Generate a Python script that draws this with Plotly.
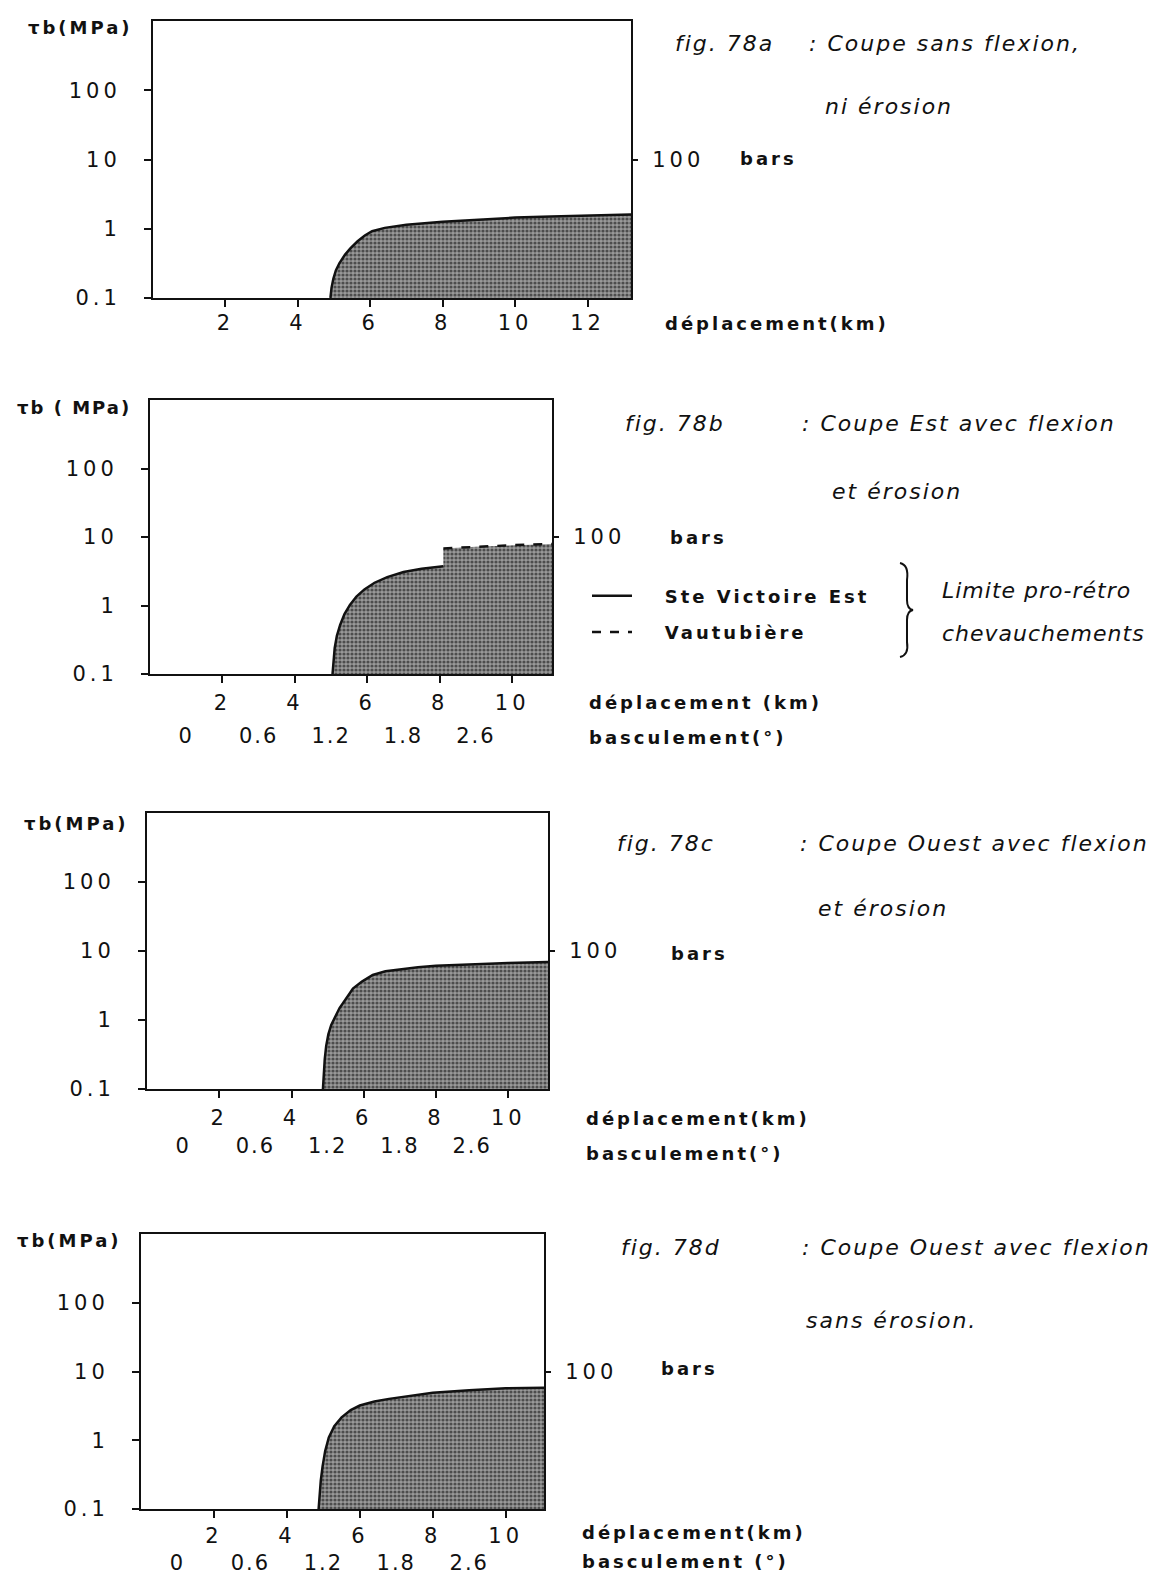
import plotly.graph_objects as go

W, H = 1163, 1577
OFF = 8                      # marge du <body> de la page
FW, FH = W - 2 * OFF, H - OFF

# valeurs : deplacement (km) -> Tb (MPa)
a_x = [4.9, 4.93, 4.98, 5.05, 5.15, 5.3, 5.45, 5.65, 5.85, 6.05, 6.4, 7.0, 8.0, 9.0, 10.0, 11.0, 12.0, 13.2]
a_y = [0.1, 0.14, 0.19, 0.25, 0.32, 0.42, 0.52, 0.66, 0.8, 0.92, 1.03, 1.14, 1.26, 1.36, 1.45, 1.5, 1.55, 1.6]

b_sv_x = [5.04, 5.06, 5.1, 5.16, 5.25, 5.37, 5.52, 5.7, 5.92, 6.2, 6.55, 7.0, 7.5, 8.1]
b_sv_y = [0.1, 0.15, 0.24, 0.36, 0.52, 0.75, 1.02, 1.35, 1.72, 2.15, 2.6, 3.08, 3.45, 3.75]
b_vt_x = [8.1, 9.0, 10.0, 11.1]
b_vt_y = [6.8, 7.2, 7.6, 7.9]

c_x = [4.87, 4.89, 4.92, 4.96, 5.02, 5.1, 5.2, 5.33, 5.5, 5.7, 5.95, 6.25, 6.6, 7.0, 7.5, 8.0, 9.0, 10.0, 11.1]
c_y = [0.1, 0.17, 0.27, 0.42, 0.62, 0.85, 1.1, 1.49, 2.0, 2.85, 3.6, 4.5, 5.1, 5.45, 5.8, 6.1, 6.45, 6.7, 6.9]

d_x = [4.87, 4.89, 4.93, 4.98, 5.05, 5.15, 5.3, 5.5, 5.75, 6.0, 6.4, 6.8, 7.4, 8.0, 9.0, 10.0, 11.05]
d_y = [0.1, 0.16, 0.26, 0.42, 0.7, 1.1, 1.6, 2.15, 2.75, 3.2, 3.65, 4.0, 4.45, 4.9, 5.35, 5.7, 5.8]

y_ticks = [0.1, 1, 10, 100]
y_labels = ["0.1", "1", "10", "100"]
x_ticks_a = [2, 4, 6, 8, 10, 12]
x_ticks = [2, 4, 6, 8, 10]
bars_ticks = [100]          # 100 bars = 10 MPa
bars_labels = ["100"]
bascul_km = [1, 3, 5, 7, 9]
bascul_labels = ["0", "0.6", "1.2", "1.8", "2.6"]

Y_MIN = 0.1

INK = "#111111"
HAND = dict(family="DejaVu Sans", size=22, color=INK, style="italic")
MONO = dict(family="DejaVu Sans", size=21, color=INK)
BOLD = dict(family="DejaVu Sans", size=18, color=INK, weight="bold")


def sp(t, n=3):
    return "<span style='letter-spacing:%spx'>%s</span>" % (n, t)


def fx(x):
    return (x - OFF) / FW


def fy(y):
    return 1 - (y - OFF) / FH


# cadres des 4 graphes en pixels de la page : gauche, droite, haut, bas
# xs / bs : ecart des etiquettes deplacement / basculement
panels = [
    dict(box=(153, 631, 21, 298), xmax=13.2, xt=x_ticks_a, bascul=False, xs=-2, bs=0),
    dict(box=(150, 552, 400, 674), xmax=11.1, xt=x_ticks, bascul=True, xs=2, bs=47),
    dict(box=(147, 548, 813, 1089), xmax=11.1, xt=x_ticks, bascul=True, xs=2, bs=42),
    dict(box=(141, 544, 1234, 1509), xmax=11.05, xt=x_ticks, bascul=True, xs=0, bs=39),
]

curves = [(a_x, a_y), (b_sv_x + b_vt_x, b_sv_y + b_vt_y), (c_x, c_y), (d_x, d_y)]

fig = go.Figure()
pattern = dict(shape=".", fgcolor="#000000", bgcolor="#9a9a9a", size=4, solidity=0.5)

for i, (cx, cy) in enumerate(curves, start=1):
    xs = "x" if i == 1 else "x%d" % i
    ys = "y" if i == 1 else "y%d" % i
    # zone tramee sous la courbe
    fig.add_trace(go.Scatter(
        x=cx + [cx[-1], cx[0]], y=cy + [Y_MIN, Y_MIN],
        fill="toself", fillpattern=pattern, fillcolor="#9a9a9a",
        mode="lines", line=dict(width=0), xaxis=xs, yaxis=ys,
        showlegend=False, hoverinfo="skip"))
    if i == 2:
        fig.add_trace(go.Scatter(
            x=b_sv_x, y=b_sv_y, mode="lines", line=dict(color=INK, width=2.5),
            name=sp("\u00a0\u00a0\u00a0Ste Victoire Est"), legendgroup="sv",
            xaxis=xs, yaxis=ys))
        fig.add_trace(go.Scatter(
            x=b_vt_x, y=b_vt_y, mode="lines",
            line=dict(color=INK, width=2.5, dash="dash"),
            name=sp("\u00a0\u00a0\u00a0Vautubière"), legendgroup="vt",
            xaxis=xs, yaxis=ys))
    else:
        fig.add_trace(go.Scatter(
            x=cx, y=cy, mode="lines", line=dict(color=INK, width=2.5),
            xaxis=xs, yaxis=ys, showlegend=False))
    # axes secondaires (bars, basculement)
    fig.add_trace(go.Scatter(x=[None], y=[None], xaxis=xs, yaxis="y%d" % (4 + i),
                             showlegend=False, hoverinfo="skip"))
    if panels[i - 1]["bascul"]:
        fig.add_trace(go.Scatter(x=[None], y=[None], xaxis="x%d" % (4 + i), yaxis=ys,
                                 showlegend=False, hoverinfo="skip"))

layout = {}
annotations = []
for i, p in enumerate(panels, start=1):
    l, r, t, b = p["box"]
    xk = "xaxis" if i == 1 else "xaxis%d" % i
    yk = "yaxis" if i == 1 else "yaxis%d" % i
    xs = "x" if i == 1 else "x%d" % i
    ys = "y" if i == 1 else "y%d" % i
    layout[xk] = dict(
        domain=[fx(l), fx(r)], anchor=ys, range=[0, p["xmax"]], automargin=False,
        showline=True, linecolor=INK, linewidth=2, mirror=True,
        ticks="outside", ticklen=7, tickwidth=2, tickcolor=INK,
        tickvals=p["xt"], ticktext=[sp(str(v), 4) for v in p["xt"]],
        tickfont=MONO, ticklabelstandoff=p["xs"], showgrid=False, zeroline=False)
    layout[yk] = dict(
        domain=[fy(b), fy(t)], anchor=xs, type="log", range=[-1, 3], automargin=False,
        showline=True, linecolor=INK, linewidth=2, mirror=True,
        ticks="outside", ticklen=7, tickwidth=2, tickcolor=INK,
        tickvals=y_ticks, ticktext=[sp(v, 4) for v in y_labels],
        tickfont=MONO, ticklabelstandoff=19, showgrid=False, zeroline=False)
    layout["yaxis%d" % (4 + i)] = dict(
        overlaying=ys, anchor=xs, side="right", type="log", range=[0, 4],
        automargin=False, showline=False,
        ticks="outside", ticklen=6, tickwidth=2, tickcolor=INK,
        tickvals=bars_ticks, ticktext=[sp(v, 4) for v in bars_labels],
        tickfont=MONO, ticklabelstandoff=10, showgrid=False, zeroline=False)
    if p["bascul"]:
        layout["xaxis%d" % (4 + i)] = dict(
            overlaying=xs, anchor="free", position=fy(b), side="bottom",
            automargin=False,
            range=[0, p["xmax"]], showline=False, ticks="", ticklen=0,
            tickvals=bascul_km, ticktext=[sp(v, 2) for v in bascul_labels],
            tickfont=MONO, ticklabelstandoff=p["bs"], showgrid=False, zeroline=False)

ylab = [(135, 28, "τb(MPa)", 3), (133, 408, "τb ( MPa)", 2),
        (131, 823, "τb(MPa)", 3), (124, 1240, "τb(MPa)", 3)]
for x, y, t, n in ylab:
    annotations.append(dict(x=fx(x), y=fy(y), text=sp(t, n), xanchor="right",
                            font=dict(BOLD, size=18)))

hand = [
    (673, 43, "fig. 78a"), (807, 43, ": Coupe sans flexion,"), (823, 107, "ni érosion"),
    (623, 423, "fig. 78b"), (800, 423, ": Coupe Est avec flexion"), (830, 492, "et érosion"),
    (615, 843, "fig. 78c"), (798, 843, ": Coupe Ouest avec flexion"), (816, 908, "et érosion"),
    (619, 1247, "fig. 78d"), (800, 1247, ": Coupe Ouest avec flexion"), (804, 1320, "sans érosion."),
]
for x, y, t in hand:
    annotations.append(dict(x=fx(x), y=fy(y), text=sp(t, 2), xanchor="left", font=HAND))
for x, y, t in [(940, 590, "Limite pro-rétro"), (940, 633, "chevauchements")]:
    annotations.append(dict(x=fx(x), y=fy(y), text=sp(t, 1), xanchor="left", font=HAND))

bold = [
    (738, 158, "bars"), (668, 537, "bars"), (669, 953, "bars"), (659, 1368, "bars"),
    (663, 323, "déplacement(km)"), (587, 702, "déplacement (km)"),
    (584, 1118, "déplacement(km)"), (580, 1532, "déplacement(km)"),
    (587, 737, "basculement(°)"), (584, 1153, "basculement(°)"), (580, 1561, "basculement (°)"),
]
for x, y, t in bold:
    annotations.append(dict(x=fx(x), y=fy(y), text=sp(t, 3), xanchor="left", font=BOLD))

for a in annotations:
    a.update(xref="paper", yref="paper", yanchor="middle", showarrow=False)

# accolade de la legende
pts = [(900, 563), (909, 565), (907, 580), (907, 600), (907, 609), (913, 610),
       (907, 611), (907, 620), (907, 642), (909, 655), (900, 657)]
P = ["%.5f,%.5f" % (fx(x), fy(y)) for x, y in pts]
brace = "M%s Q%s %s L%s Q%s %s Q%s %s L%s Q%s %s" % tuple(P)

fig.update_layout(
    width=FW, height=FH, autosize=False,
    margin=dict(l=0, r=0, t=0, b=0, pad=0, autoexpand=False),
    paper_bgcolor="white", plot_bgcolor="white",
    font=dict(family="DejaVu Sans", color=INK),
    showlegend=True,
    legend=dict(x=fx(587), y=fy(614), xanchor="left", yanchor="middle",
                bgcolor="rgba(0,0,0,0)", font=BOLD, itemwidth=40,
                tracegroupgap=10),
    annotations=annotations,
    shapes=[dict(type="path", path=brace, xref="paper", yref="paper",
                 line=dict(color=INK, width=2))],
    **layout)

fig.write_html("out.html")
